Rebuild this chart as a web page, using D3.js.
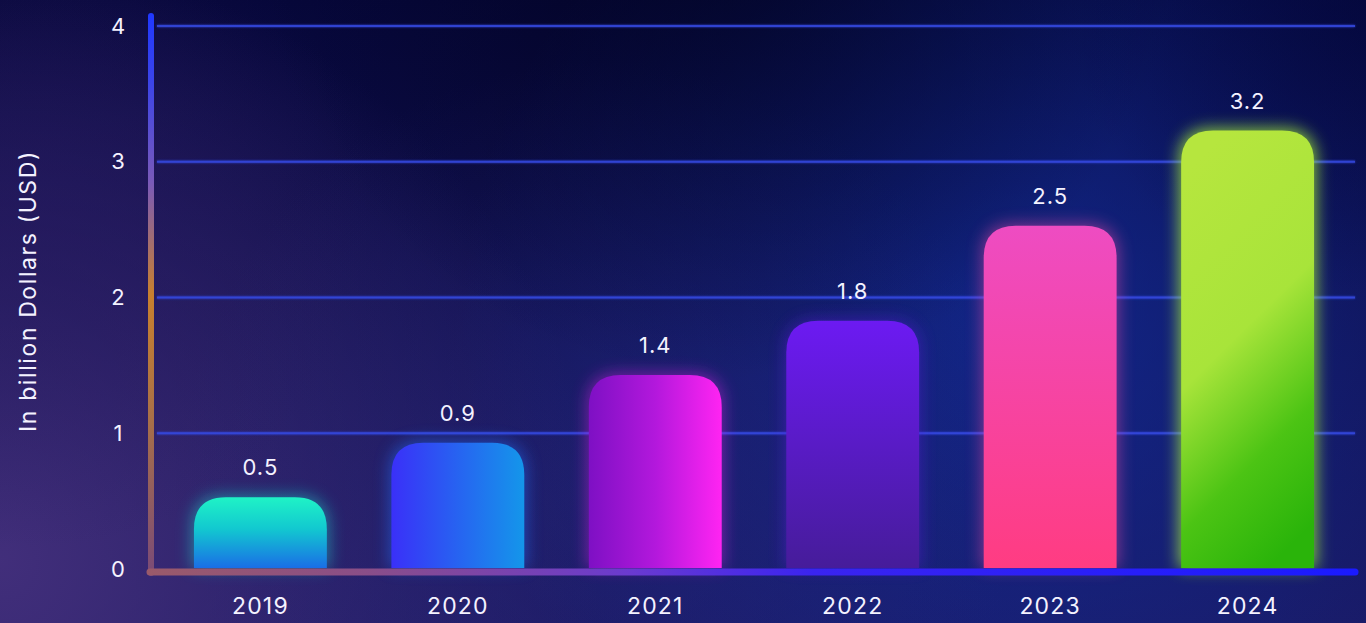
<!DOCTYPE html>
<html>
<head>
<meta charset="utf-8">
<script src="https://cdn.jsdelivr.net/npm/d3@7"></script>
<style>
  html, body { margin: 0; padding: 0; background: #0a0a3c; overflow: hidden; }
  svg { display: block; }
  text { font-family: "Inter", "Open Sans", sans-serif; fill: #f4f2ff; }
</style>
</head>
<body>
<svg id="chart" width="1366" height="623"></svg>
<script>
const years = ["2019", "2020", "2021", "2022", "2023", "2024"];
const values = [0.5, 0.9, 1.4, 1.8, 2.5, 3.2];
const valueLabels = ["0.5", "0.9", "1.4", "1.8", "2.5", "3.2"];
const yTicks = [0, 1, 2, 3, 4];
const yTitle = "In billion Dollars (USD)";

const W = 1366, H = 623;
const svg = d3.select("#chart");
const defs = svg.append("defs");

// ---------- background ----------
const bgLin = defs.append("linearGradient").attr("id", "bgLin")
  .attr("x1", 0).attr("y1", 0).attr("x2", 0).attr("y2", 1);
bgLin.append("stop").attr("offset", 0).attr("stop-color", "#06073a");
bgLin.append("stop").attr("offset", 1).attr("stop-color", "#1a1860");
svg.append("rect").attr("width", W).attr("height", H).attr("fill", "url(#bgLin)");

function radial(id, cx, cy, r, color, op) {
  const g = defs.append("radialGradient").attr("id", id)
    .attr("gradientUnits", "userSpaceOnUse")
    .attr("cx", cx).attr("cy", cy).attr("r", r);
  g.append("stop").attr("offset", 0).attr("stop-color", color).attr("stop-opacity", op);
  g.append("stop").attr("offset", 1).attr("stop-color", color).attr("stop-opacity", 0);
  svg.append("rect").attr("width", W).attr("height", H).attr("fill", `url(#${id})`);
}
radial("rgLeft", 0, 560, 600, "#46317e", 0.9);
radial("rgLeftTop", 40, 220, 330, "#24185e", 0.5);
radial("rgRight", 1020, 330, 560, "#1232a8", 0.65);
radial("rgMid", 600, 480, 420, "#28287e", 0.45);
radial("rgTopDark", 720, -80, 460, "#020320", 0.75);
radial("rgTopRight", 1366, 0, 300, "#03063a", 0.6);

// ---------- scales ----------
const x = d3.scaleBand().domain(years).range([144.6, 1363.4]).paddingInner(0.327).paddingOuter(0.25);
const y = d3.scaleLinear().domain([0, 4]).range([569, 26]);

// ---------- gridlines ----------
const glow = defs.append("filter").attr("id", "lineGlow")
  .attr("filterUnits", "userSpaceOnUse")
  .attr("x", 0).attr("y", 0).attr("width", W).attr("height", H);
glow.append("feGaussianBlur").attr("stdDeviation", 1.2).attr("result", "b");
const gm = glow.append("feMerge");
gm.append("feMergeNode").attr("in", "b");
gm.append("feMergeNode").attr("in", "SourceGraphic");

svg.append("g").selectAll("line").data(yTicks.filter(d => d > 0)).join("line")
  .attr("x1", 157).attr("x2", 1355)
  .attr("y1", d => y(d)).attr("y2", d => y(d))
  .attr("stroke", "#3548e2").attr("stroke-width", 1.8).attr("opacity", 0.9)
  .attr("filter", "url(#lineGlow)");

// ---------- bar gradients ----------
const barGrads = [
  { dir: [0, 0, 0, 1], stops: [["0", "#1ff3c6"], ["0.45", "#12c8d0"], ["1", "#1a6ee6"]] },
  { dir: [0, 0, 1, 0], stops: [["0", "#3a30f8"], ["1", "#1496ea"]] },
  { dir: [0, 0, 1, 0], stops: [["0", "#7e10c4"], ["0.5", "#b318dc"], ["1", "#ff24f2"]] },
  { dir: [0, 0, 0, 1], stops: [["0", "#6c1af2"], ["1", "#461c9a"]] },
  { dir: [0, 0, 0, 1], stops: [["0", "#ee4cc2"], ["1", "#ff3c82"]] },
  { dir: [0.35, 0, 0.65, 1], stops: [["0", "#b6e63e"], ["0.45", "#a8e43a"], ["0.75", "#4cc414"], ["1", "#2ab40a"]] }
];
const glowColors = ["#14d8d0", "#2070ff", "#e020e8", "#5a1ad8", "#f04aa8", "#b0ff30"];
const glowOps = [0.5, 0.5, 0.45, 0.45, 0.5, 0.75];
barGrads.forEach((g, i) => {
  const lg = defs.append("linearGradient").attr("id", "bar" + i)
    .attr("x1", g.dir[0]).attr("y1", g.dir[1]).attr("x2", g.dir[2]).attr("y2", g.dir[3]);
  g.stops.forEach(s => lg.append("stop").attr("offset", s[0]).attr("stop-color", s[1]));
});
const barGlow = defs.append("filter").attr("id", "barGlow")
  .attr("x", "-30%").attr("y", "-30%").attr("width", "160%").attr("height", "160%");
barGlow.append("feGaussianBlur").attr("stdDeviation", 8);

const rr = 32;
function barPath(x0, w, yTop, yBot) {
  const r = Math.min(rr, (yBot - yTop));
  return `M${x0},${yBot} L${x0},${yTop + r} Q${x0},${yTop} ${x0 + r},${yTop} L${x0 + w - r},${yTop} Q${x0 + w},${yTop} ${x0 + w},${yTop + r} L${x0 + w},${yBot} Z`;
}

const bars = svg.append("g");
const data = years.map((yr, i) => ({ yr, v: values[i], label: valueLabels[i], i }));
const barBottom = y(0) - 1;
const topY = d => y(d.v) - 4;

bars.selectAll("path.glow").data(data).join("path")
  .attr("class", "glow")
  .attr("d", d => barPath(x(d.yr) - 2, x.bandwidth() + 4, topY(d) - 2, barBottom))
  .attr("fill", d => glowColors[d.i]).attr("opacity", d => glowOps[d.i])
  .attr("filter", "url(#barGlow)");

bars.selectAll("path.bar").data(data).join("path")
  .attr("class", "bar")
  .attr("d", d => barPath(x(d.yr), x.bandwidth(), topY(d), barBottom))
  .attr("fill", d => `url(#bar${d.i})`);

// value labels
svg.append("g").selectAll("text").data(data).join("text")
  .attr("x", d => x(d.yr) + x.bandwidth() / 2)
  .attr("y", d => topY(d) - 22)
  .attr("text-anchor", "middle")
  .attr("font-size", 22)
  .attr("letter-spacing", 1)
  .text(d => d.label);

// ---------- axis lines ----------
const yAxGrad = defs.append("linearGradient").attr("id", "yAxGrad")
  .attr("gradientUnits", "userSpaceOnUse").attr("x1", 0).attr("y1", 14).attr("x2", 0).attr("y2", 576);
[["0", "#2038ff"], ["0.12", "#3b44e8"], ["0.3", "#7a5ab8"], ["0.5", "#c8802e"], ["0.72", "#a87048"], ["1", "#7a4a78"]]
  .forEach(s => yAxGrad.append("stop").attr("offset", s[0]).attr("stop-color", s[1]));
const xAxGrad = defs.append("linearGradient").attr("id", "xAxGrad")
  .attr("gradientUnits", "userSpaceOnUse").attr("x1", 148).attr("y1", 0).attr("x2", 1358).attr("y2", 0);
[["0", "#9a5a6a"], ["0.18", "#8a4e88"], ["0.4", "#6a3ad0"], ["0.55", "#3a24f0"], ["1", "#1a1aff"]]
  .forEach(s => xAxGrad.append("stop").attr("offset", s[0]).attr("stop-color", s[1]));

svg.append("line")
  .attr("x1", 151).attr("x2", 151).attr("y1", 16).attr("y2", y(0) + 4)
  .attr("stroke", "url(#yAxGrad)").attr("stroke-width", 6).attr("stroke-linecap", "round");
svg.append("line")
  .attr("x1", 150).attr("x2", 1355).attr("y1", y(0) + 3).attr("y2", y(0) + 3)
  .attr("stroke", "url(#xAxGrad)").attr("stroke-width", 7).attr("stroke-linecap", "round");

// ---------- axes (labels via d3 axes) ----------
const yAxis = d3.axisLeft(y).tickValues(yTicks).tickSize(0).tickPadding(0).tickFormat(d3.format("d"));
const yg = svg.append("g").attr("transform", "translate(127,0)").call(yAxis);
yg.select(".domain").remove();
yg.selectAll("text").attr("font-size", 22).attr("fill", "#f4f2ff")
  .attr("font-family", "Inter, 'Open Sans', sans-serif").attr("text-anchor", "middle").attr("x", -9).attr("dy", "0.32em");

const xAxis = d3.axisBottom(x).tickSize(0).tickPadding(0);
const xg = svg.append("g").attr("transform", `translate(0,${y(0) + 29})`).call(xAxis);
xg.select(".domain").remove();
xg.selectAll("text").attr("font-size", 23).attr("fill", "#f4f2ff").attr("letter-spacing", 1.2)
  .attr("font-family", "Inter, 'Open Sans', sans-serif");

// y title
svg.append("text")
  .attr("transform", "translate(36,291) rotate(-90)")
  .attr("text-anchor", "middle")
  .attr("font-size", 23)
  .attr("letter-spacing", 1.6)
  .text(yTitle);
</script>
</body>
</html>
